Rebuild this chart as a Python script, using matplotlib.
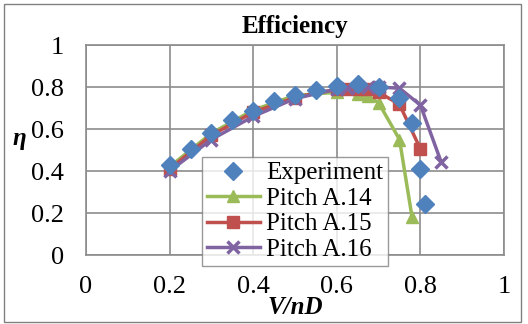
import matplotlib.pyplot as plt
from matplotlib.patches import Rectangle

exp_x = [0.2, 0.25, 0.3, 0.35, 0.4, 0.45, 0.5, 0.55, 0.6, 0.65, 0.7, 0.75, 0.78, 0.8, 0.81]
exp_y = [0.43, 0.505, 0.58, 0.645, 0.687, 0.735, 0.762, 0.786, 0.805, 0.815, 0.80, 0.75, 0.63, 0.41, 0.245]

a14_x = [0.2, 0.3, 0.4, 0.5, 0.6, 0.65, 0.675, 0.7, 0.75, 0.78]
a14_y = [0.42, 0.58, 0.69, 0.76, 0.775, 0.765, 0.755, 0.725, 0.55, 0.18]

a15_x = [0.2, 0.3, 0.4, 0.5, 0.6, 0.625, 0.65, 0.675, 0.7, 0.75, 0.8]
a15_y = [0.41, 0.57, 0.68, 0.75, 0.79, 0.79, 0.79, 0.79, 0.775, 0.717, 0.505]

a16_x = [0.2, 0.3, 0.4, 0.5, 0.6, 0.625, 0.65, 0.675, 0.7, 0.75, 0.8, 0.85]
a16_y = [0.40, 0.55, 0.66, 0.745, 0.79, 0.795, 0.80, 0.80, 0.80, 0.794, 0.714, 0.441]

xticks = [0, 0.2, 0.4, 0.6, 0.8, 1]
yticks = [0, 0.2, 0.4, 0.6, 0.8, 1]

BLUE, GREEN, RED, PURPLE = "#4F81BD", "#9BBB59", "#C0504D", "#8064A2"
GRID = "#8c8c8c"

plt.rcParams["font.family"] = ["Liberation Serif", "DejaVu Serif"]

fig = plt.figure(figsize=(5.28, 3.24), dpi=100)
ax = fig.add_axes([86 / 528, 1 - 255 / 324, 418 / 528, 210 / 324])

ax.plot(a14_x, a14_y, "-^", color=GREEN, lw=2.5, ms=9, label="Pitch A.14", zorder=3)
ax.plot(a15_x, a15_y, "-s", color=RED, lw=2.5, ms=9, label="Pitch A.15", zorder=3)
ax.plot(a16_x, a16_y, "-x", color=PURPLE, lw=2.5, ms=8, mew=2.5, label="Pitch A.16", zorder=3)
ax.plot(exp_x, exp_y, "D", color=BLUE, ms=9, ls="none", label="Experiment", zorder=4)

ax.set_xlim(0, 1)
ax.set_ylim(0, 1)
ax.set_xticks(xticks)
ax.set_xticklabels([f"{t:g}" for t in xticks])
ax.set_yticks(yticks)
ax.set_yticklabels([f"{t:g}" for t in yticks])
ax.tick_params(axis="x", length=0, labelsize=19, pad=15)
ax.tick_params(axis="y", length=0, labelsize=19, pad=16)
ax.grid(True, color=GRID, lw=1.2)
for sp in ax.spines.values():
    sp.set_color(GRID)
    sp.set_linewidth(1.2)
ax.set_axisbelow(True)

ax.set_title("Efficiency", fontsize=18, fontweight="bold", pad=9)
ax.set_xlabel("V/nD", fontsize=18, fontweight="bold", style="italic", labelpad=-1)
ax.set_ylabel("η", fontsize=18, fontweight="bold", style="italic", rotation=0, labelpad=8)

# legend sits in figure coords, it hangs below the plot area like the original
h, l = ax.get_legend_handles_labels()
order = [3, 0, 1, 2]
leg = fig.legend([h[i] for i in order], [l[i] for i in order],
                 loc="upper left", bbox_to_anchor=(202 / 528, 1 - 157 / 324),
                 fontsize=18, frameon=True, fancybox=False, edgecolor="#808080",
                 handlelength=2.1, handletextpad=0.25, borderpad=0.2, labelspacing=0.12,
                 borderaxespad=0)
leg.get_frame().set_linewidth(1.0)

fig.patches.append(Rectangle((4 / 528, 2 / 324), 517 / 528, 318 / 324, transform=fig.transFigure,
                             fill=False, edgecolor="#808080", lw=1.0))

fig.savefig("out.png", dpi=100)
